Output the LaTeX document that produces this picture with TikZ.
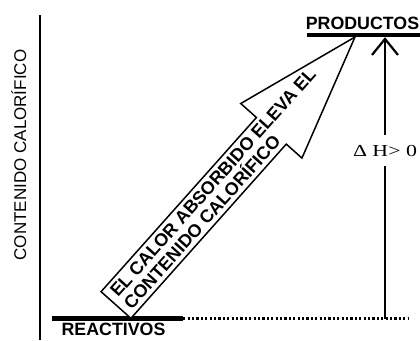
\documentclass[tikz,border=0pt]{standalone}
\usepackage{fontspec}
\setmainfont{Liberation Serif}
\setsansfont{Liberation Sans}
\usepackage{tikz}
\usetikzlibrary{arrows.meta, positioning, calc}
\tikzstyle{levelbar} = [fill=black, inner sep=0pt, minimum height=4.5pt]
\tikzstyle{levellabel} = [inner sep=0pt, font=\sffamily\bfseries\fontsize{17.8}{18}\selectfont]
\tikzstyle{axisline} = [draw, line width=1.3pt]
\tikzstyle{dotline} = [draw, line width=2.3pt, dash pattern=on 2.2pt off 2.2pt]
\tikzstyle{dhline} = [draw, line width=1.4pt, -{Straight Barb[length=16pt, width=26pt, line width=2.2pt]}]
\tikzstyle{bigarrow} = [draw, line width=1.5pt, line join=miter, fill=white]

\begin{document}
\begin{tikzpicture}[x=1pt, y=-1pt]
    \useasboundingbox (0,0) rectangle (420,340);

    \coordinate (axtop) at (40,15);
    \coordinate (axbot) at (40,340);
    \draw [axisline] (axtop) -- (axbot);
    \node (ylabel) [rotate=90, anchor=base, inner sep=0pt, font=\sffamily\fontsize{17}{18}\selectfont] at (26,155) {CONTENIDO CALORÍFICO};

    \node (rbar) [levelbar, minimum width=131pt] at (117.5,318.5) {};
    \node (reactivos) [levellabel, below=2.3pt of rbar, xshift=-4pt] {REACTIVOS};
    \node (pbar) [levelbar, minimum width=113pt, minimum height=4pt] at (363.5,35) {};
    \node (productos) [levellabel, above=3pt of pbar, xshift=-1pt] {PRODUCTOS};

    \coordinate (dotend) at (409,318.5);
    \draw [dotline] (rbar.east) -- (dotend);

    \coordinate (hbase) at (385,318.5);
    \draw [dhline] (hbase) -- node[pos=0.597, fill=white, inner xsep=1pt, inner ysep=10pt, font=\fontsize{16.8}{18}\selectfont] (dh) {\scalebox{1.3}[1]{Δ H> 0}} (hbase |- pbar.south);

    \coordinate (tail) at (116,305);
    \coordinate (tip) at (355,37);
    \coordinate (neck) at ($(tail)!0.65!(tip)$);
    \draw [bigarrow] ($(tail)!20pt!90:(tip)$) -- ($(neck)!20pt!90:(tip)$) -- ($(neck)!41pt!90:(tip)$)
        -- (tip) -- ($(neck)!41pt!-90:(tip)$) -- ($(neck)!20pt!-90:(tip)$) -- ($(tail)!20pt!-90:(tip)$) -- cycle;
    \path (tail) -- (tip) node[pos=0.018, sloped, anchor=west, align=left, inner sep=0pt, font=\sffamily\bfseries\fontsize{18}{18.5}\selectfont] (heattext) {EL CALOR ABSORBIDO ELEVA EL\\CONTENIDO CALORÍFICO};
\end{tikzpicture}
\end{document}
